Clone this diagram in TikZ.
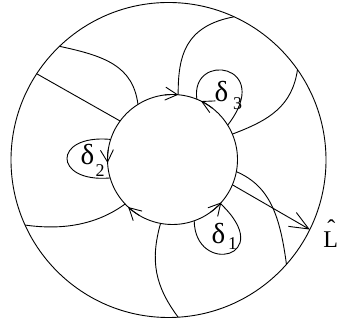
\documentclass[tikz,border=0pt]{standalone}
\usepackage{fontspec}
\setmainfont{Liberation Serif}
\usetikzlibrary{arrows.meta}
\begin{document}
\begin{tikzpicture}[x=1pt,y=1pt,line width=0.9pt,
  circarrow/.style={-{Straight Barb[length=12pt,width=13pt,line width=0.9pt]}},
  bigarrow/.style={-{Straight Barb[length=19pt,width=16pt,line width=0.9pt]}},
  dlabel/.style={inner sep=0pt,font=\fontsize{29}{32}\selectfont},
  sublabel/.style={inner sep=0pt,font=\fontsize{18}{20}\selectfont}]
\useasboundingbox (0,0) rectangle (338,326);
\coordinate (O) at (168.5,166);
\coordinate (I) at (172.5,166.5);
\draw (O) circle[radius=157.5];
\draw (I) circle[radius=65];
% points on outer circle
\path (O) ++(133.8:157.5) coordinate (o1);
\path (O) ++(146.8:157.5) coordinate (o2);
\path (O) ++(204.4:157.5) coordinate (o4);
\path (O) ++(273.5:157.5) coordinate (o5);
\path (O) ++(318.5:157.5) coordinate (o7);
\path (O) ++(333.8:157.5) coordinate (oL);
\path (O) ++(35:157.5) coordinate (o8);
\path (O) ++(65.4:157.5) coordinate (o10);
% points on inner circle
\path (I) ++(122.1:65) coordinate (i1);
\path (I) ++(143.7:65) coordinate (i2);
\path (I) ++(162:65) coordinate (d2a);
\path (I) ++(196.5:65) coordinate (d2b);
\path (I) ++(223.2:65) coordinate (i4);
\path (I) ++(259.4:65) coordinate (i5);
\path (I) ++(289.5:65) coordinate (d1a);
\path (I) ++(317.4:65) coordinate (d1b);
\path (I) ++(337.1:65) coordinate (iL);
\path (I) ++(349.2:65) coordinate (i7);
\path (I) ++(23:65) coordinate (i8);
\path (I) ++(31.9:65) coordinate (d3b);
\path (I) ++(68:65) coordinate (d3a);
\path (I) ++(85:65) coordinate (i10);
% curves
\draw (o1) .. controls (105,270) and (133,260) .. (i1);
\draw (o2) -- (i2);
\draw (d2a) .. controls (52,192) and (53,143) .. (d2b);
\draw (o4) .. controls (60,96) and (95,100) .. (i4);
\draw (i5) .. controls (150,65) and (155,40) .. (o5);
\draw (d1a) .. controls (195,50) and (278,68) .. (d1b);
\draw (i7) .. controls (270,140) and (280,110) .. (o7);
\draw (i8) .. controls (270,206) and (292,220) .. (o8);
\draw (d3a) .. controls (190,275) and (275,262) .. (d3b);
\draw (i10) .. controls (178,270) and (185,300) .. (o10);
\draw[bigarrow] (iL) -- (oL);
% arrows on inner circle
\draw[circarrow] (I) ++(97:65) arc[start angle=97,end angle=85,radius=65];
\draw[circarrow] (I) ++(52:65) arc[start angle=52,end angle=64,radius=65];
\draw[circarrow] (I) ++(171:65) arc[start angle=171,end angle=183,radius=65];
\draw[circarrow] (I) ++(239:65) arc[start angle=239,end angle=227,radius=65];
\draw[circarrow] (I) ++(306:65) arc[start angle=306,end angle=318.7,radius=65];
% labels
\node[dlabel] (t3) at (221.5,234.5) {δ};
\node[sublabel] (s3) at (237.5,222.5) {3};
\node[dlabel] (t2) at (87.5,171) {δ};
\node[sublabel] (s2) at (100,155) {2};
\node[dlabel] (t1) at (218.5,92.5) {δ};
\node[sublabel] (s1) at (232.5,82) {1};
\node[inner sep=0pt,anchor=base west,font=\fontsize{24}{26}\selectfont] (L) at (323,78)
  {\makebox[0pt][l]{\hspace{4pt}\raisebox{11pt}{ˆ}}L};
\end{tikzpicture}
\end{document}
